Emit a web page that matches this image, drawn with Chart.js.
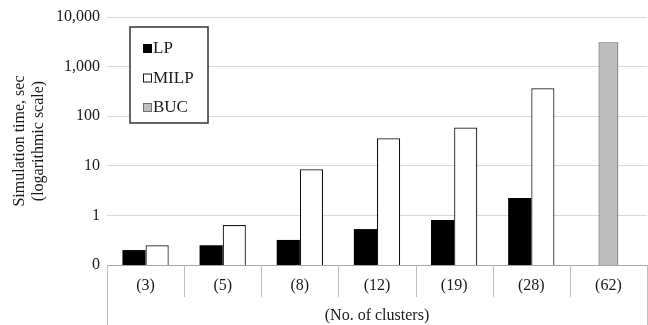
<!DOCTYPE html>
<html>
<head>
<meta charset="utf-8">
<script src="https://cdn.jsdelivr.net/npm/chart.js@4"></script>
<style>
  html, body { margin: 0; padding: 0; background: #fff; }
  #wrap { width: 648px; height: 325px; }
</style>
</head>
<body>
<div id="wrap"><canvas id="chart"></canvas></div>
<script>
// Data
const clusters = ['(3)', '(5)', '(8)', '(12)', '(19)', '(28)', '(62)'];
const lpTimes = [0.2, 0.25, 0.32, 0.53, 0.81, 2.24, null];
const milpTimes = [0.25, 0.64, 8.5, 36, 59, 366, null];
const bucTimes = [null, null, null, null, null, null, 3100];
const yTicks = [0.1, 1, 10, 100, 1000, 10000];

const FONT = "'Liberation Serif', 'Times New Roman', serif";

// category "table" lines under the x axis
const tableLines = {
    id: 'tableLines',
    afterDraw(chart) {
        const ctx = chart.ctx;
        const x = chart.scales.x;
        const area = chart.chartArea;
        const step = x.getPixelForValue(1) - x.getPixelForValue(0);
        ctx.save();
        ctx.strokeStyle = '#bfbfbf';
        ctx.lineWidth = 1;
        for (let i = 0; i <= clusters.length; i++) {
            const px = Math.round(x.getPixelForValue(i) - step / 2) + 0.5;
            const bottom = (i === 0 || i === clusters.length) ? chart.height : area.bottom + 32;
            ctx.beginPath();
            ctx.moveTo(px, area.bottom);
            ctx.lineTo(px, bottom);
            ctx.stroke();
        }
        ctx.restore();
    }
};

// boxed legend inside the plot area
const boxLegend = {
    id: 'boxLegend',
    afterDraw(chart) {
        const ctx = chart.ctx;
        const area = chart.chartArea;
        const left = area.left + 23;
        const top = area.top + 10;
        ctx.save();
        ctx.fillStyle = '#fff';
        ctx.fillRect(left, top, 78, 96);
        ctx.strokeStyle = '#333';
        ctx.lineWidth = 1.5;
        ctx.strokeRect(left, top, 78, 96);
        ctx.font = '17px ' + FONT;
        ctx.textBaseline = 'middle';
        chart.data.datasets.forEach((ds, i) => {
            const cy = top + 21 + i * 29.5;
            ctx.fillStyle = ds.backgroundColor;
            ctx.fillRect(left + 13, cy - 4, 9, 9);
            ctx.strokeStyle = ds.borderColor;
            ctx.lineWidth = 1;
            ctx.strokeRect(left + 13.5, cy - 3.5, 8, 8);
            ctx.fillStyle = '#1a1a1a';
            ctx.fillText(ds.label, left + 23, cy + 1);
        });
        ctx.restore();
    }
};

new Chart(document.getElementById('chart'), {
    type: 'bar',
    data: {
        labels: clusters,
        datasets: [
            {
                label: 'LP',
                data: lpTimes,
                backgroundColor: '#000',
                borderColor: '#000',
                borderWidth: 0
            },
            {
                label: 'MILP',
                data: milpTimes,
                backgroundColor: '#fff',
                borderColor: '#111',
                borderWidth: 1.2
            },
            {
                label: 'BUC',
                data: bucTimes,
                backgroundColor: '#bdbdbd',
                borderColor: '#6e6e6e',
                borderWidth: 1.2,
                barPercentage: 0.43
            }
        ]
    },
    options: {
        responsive: true,
        maintainAspectRatio: false,
        animation: false,
        datasets: {
            bar: {
                categoryPercentage: 0.6,
                barPercentage: 1,
                skipNull: true
            }
        },
        layout: {
            padding: { top: 17, right: 1, left: 10, bottom: 0 }
        },
        plugins: {
            legend: { display: false },
            tooltip: { enabled: false }
        },
        scales: {
            x: {
                grid: { display: false },
                border: { display: true, color: '#a6a6a6', width: 1 },
                ticks: {
                    color: '#1a1a1a',
                    font: { family: FONT, size: 16 },
                    padding: 3
                },
                title: {
                    display: true,
                    text: '(No. of clusters)',
                    color: '#1a1a1a',
                    font: { family: FONT, size: 16 },
                    padding: { top: 4, bottom: 0 }
                },
                afterFit(scale) { scale.height = 60; }
            },
            y: {
                type: 'logarithmic',
                min: 0.1,
                max: 10000,
                grid: { color: '#d9d9d9', drawTicks: false },
                border: { display: false },
                afterBuildTicks(scale) {
                    scale.ticks = yTicks.map(v => ({ value: v }));
                },
                ticks: {
                    color: '#1a1a1a',
                    font: { family: FONT, size: 16 },
                    padding: 7,
                    callback: v => Number(v).toLocaleString('en-US', { maximumFractionDigits: 0 })
                },
                title: {
                    display: true,
                    text: ['Simulation time, sec', '(logarithmic scale)'],
                    color: '#1a1a1a',
                    font: { family: FONT, size: 16, lineHeight: 1.2 },
                    padding: { top: 0, bottom: 6 }
                },
                afterFit(scale) { scale.width = 97; }
            }
        }
    },
    plugins: [tableLines, boxLegend]
});
</script>
</body>
</html>
